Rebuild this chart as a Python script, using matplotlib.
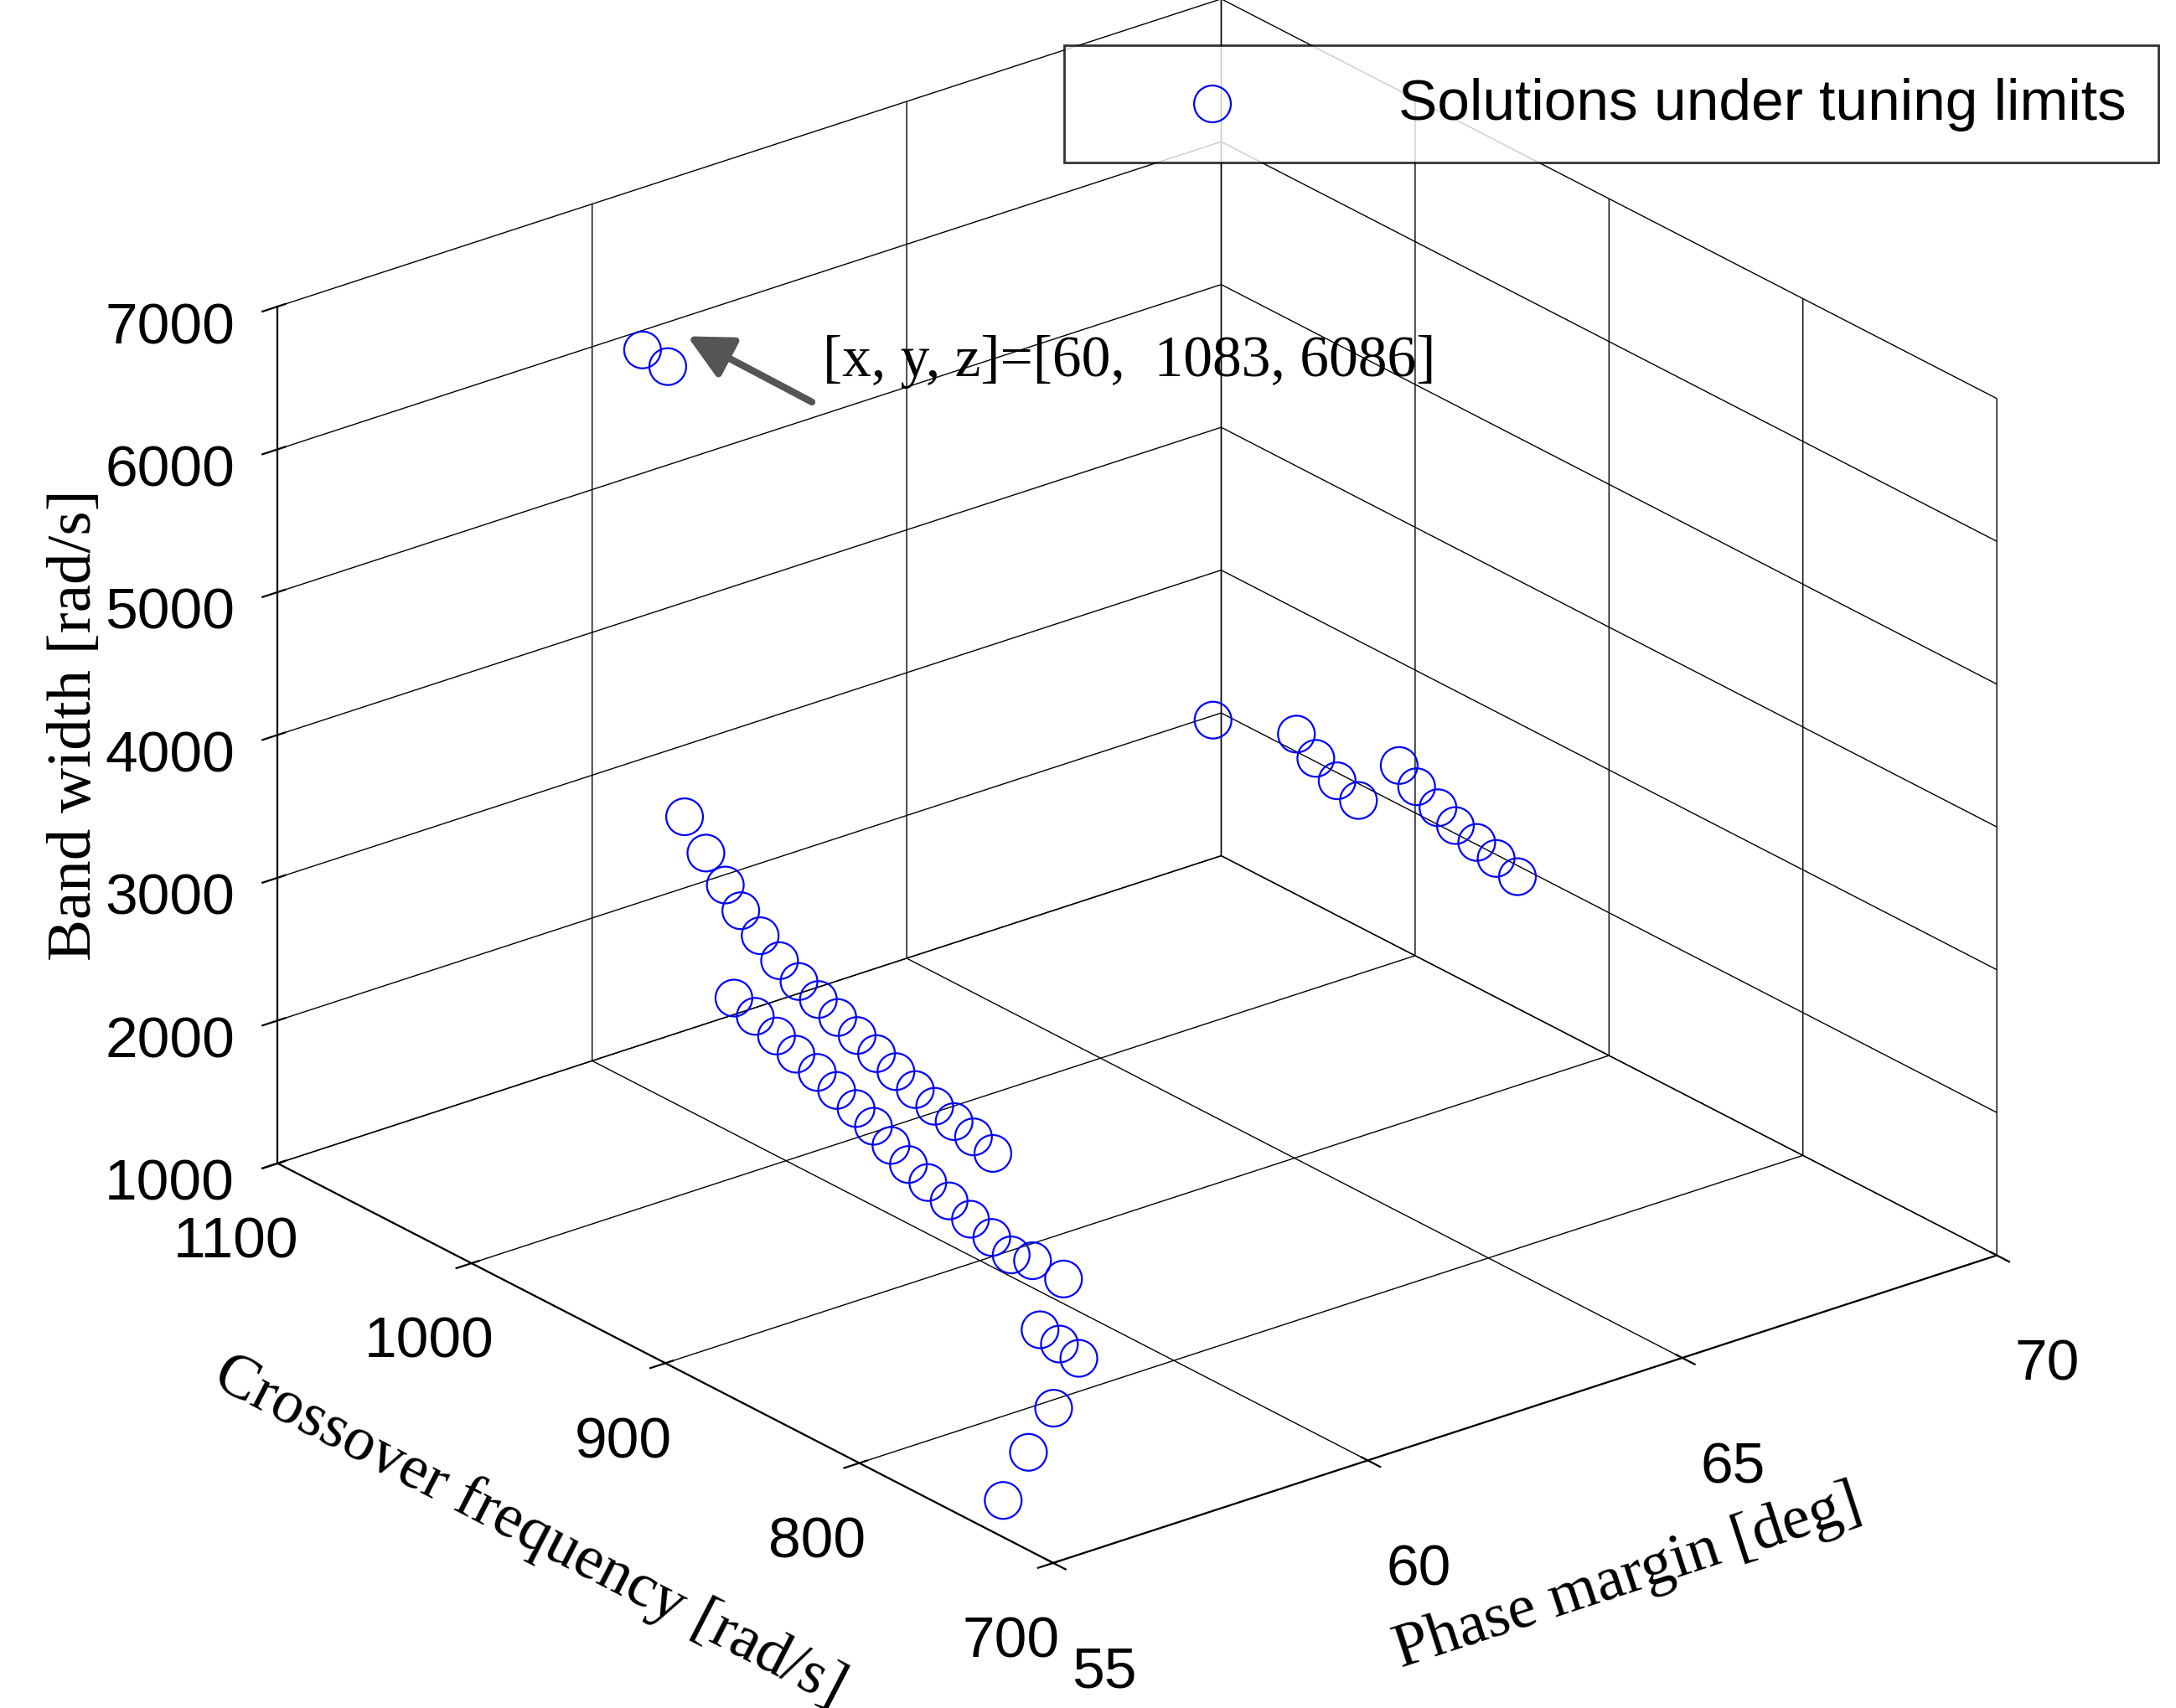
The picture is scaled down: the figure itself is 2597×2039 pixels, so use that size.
import matplotlib
matplotlib.use('Agg')
import matplotlib.pyplot as plt

# Phase margin [deg], crossover frequency [rad/s], band width [rad/s]
phase_margin = ([60, 60] + [65] * 12 + [57] * 17 + [58] * 17 + [55.5] * 6)
crossover = [1074, 1061,
             942, 899, 889, 878, 867, 846, 837, 826, 817, 806, 796, 785,
             955, 944, 934, 926, 916, 906, 896, 886, 876, 866, 856, 846, 836, 826, 816, 806, 796,
             962, 951, 940, 930, 919, 909, 899, 890, 881, 872, 862, 851, 840, 829, 819, 808, 792,
             723, 713, 703, 716, 729, 742]
bandwidth = [6160, 6134,
             3773, 3976, 3876, 3796, 3735, 4127, 4041, 3971, 3909, 3868, 3826, 3775,
             4154, 3977, 3823, 3699, 3594, 3489, 3413, 3357, 3301, 3245, 3188, 3132, 3076, 3029, 2992, 2955, 2909,
             2692, 2641, 2580, 2523, 2472, 2416, 2359, 2298, 2227, 2156, 2100, 2048, 1997, 1946, 1894, 1930, 1914,
             2400, 2370, 2340, 1900, 1500, 1072]

x_ticks = [55, 60, 65, 70]
y_ticks = [700, 800, 900, 1000, 1100]
z_ticks = [1000, 2000, 3000, 4000, 5000, 6000, 7000]

fig = plt.figure(figsize=(12.985, 10.2), dpi=200)
ax = fig.add_axes([0.012, 0.029, 1.0, 1.0], projection='3d', proj_type='ortho')
ax.view_init(elev=24.2, azim=-128.5)
ax.set_box_aspect((870, 899, 678), zoom=1.12)

ax.scatter(phase_margin, crossover, bandwidth, s=250, facecolors='none',
           edgecolors='blue', linewidths=0.8, depthshade=False,
           label='Solutions under tuning limits')

ax.set_xlim(55, 70)
ax.set_ylim(700, 1100)
ax.set_zlim(1000, 7000)
ax.set_xticks(x_ticks)
ax.set_yticks(y_ticks)
ax.set_zticks(z_ticks)
for axis in (ax.xaxis, ax.yaxis, ax.zaxis):
    axis.set_pane_color((1, 1, 1, 0))
    axis._axinfo['grid'].update(color='black', linewidth=0.5)
    axis.line.set_color('black')
ax.tick_params(labelsize=25)
ax.xaxis.set_tick_params(pad=17)
ax.yaxis.set_tick_params(pad=9)
ax.zaxis.set_tick_params(pad=16)
for lab in ax.get_xticklabels() + ax.get_yticklabels() + ax.get_zticklabels():
    lab.set_family('Liberation Sans')

serif = {'family': 'Liberation Serif', 'size': 27}
ax.set_xlabel('Phase margin [deg]', fontdict=serif, labelpad=30)
ax.set_ylabel('Crossover frequency [rad/s]', fontdict=serif, labelpad=34)
ax.set_zlabel('Band width [rad/s]', fontdict=serif, labelpad=24)

fig.legend(loc='upper right', bbox_to_anchor=(0.992, 0.973), borderaxespad=0,
           prop={'family': 'Liberation Sans', 'size': 25}, handlelength=4,
           handletextpad=1.2, fancybox=False, edgecolor='black', borderpad=0.55)

fig.text(0.378, 0.788, '[x, y, z]=[60,  1083, 6086]', family='Liberation Serif',
         fontsize=25, va='center')
fig.add_artist(matplotlib.patches.FancyArrowPatch((0.375, 0.763), (0.314, 0.804),
               transform=fig.transFigure, arrowstyle='-|>', mutation_scale=40,
               color='#555555', linewidth=3))

fig.savefig('out.png', dpi=200)
